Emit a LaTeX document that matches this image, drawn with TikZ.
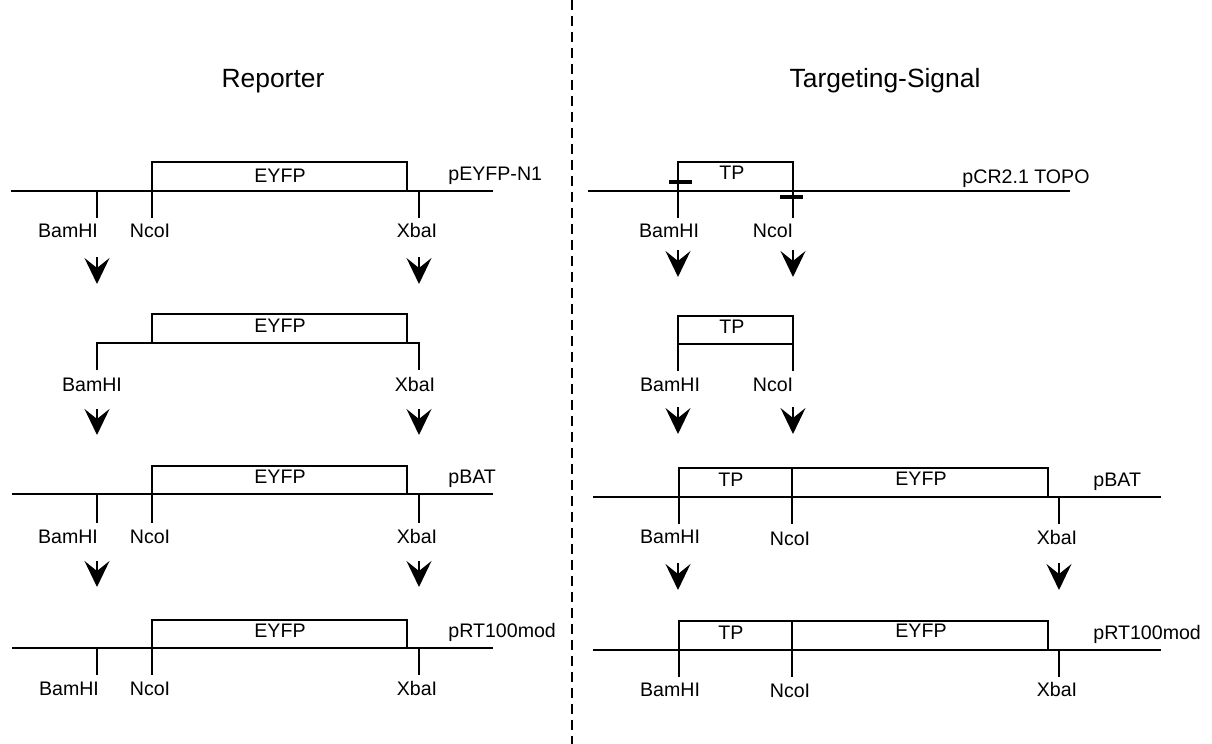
\documentclass[tikz,border=0pt]{standalone}
\usepackage{fontspec}
\setmainfont{Liberation Sans}
\usetikzlibrary{arrows.meta}

\begin{document}
\begin{tikzpicture}[
    x=0.5pt, y=-0.5pt,
    every node/.style={font=\fontsize{9.8}{11}\selectfont, inner sep=0pt},
    ttl/.style={font=\fontsize{13.2}{15}\selectfont, anchor=base},
    bb/.style={line width=1pt},
    ins/.style={draw, line width=1pt},
    cut/.style={line width=1pt},
    bar/.style={line width=2pt},
    lbl/.style={anchor=base},
    vec/.style={anchor=base west},
    site/.style={anchor=base},
    stp/.style={line width=1pt, -{Stealth[length=13pt, width=12.5pt, inset=5pt]}},
    sep/.style={line width=0.75pt, dash pattern=on 5pt off 3pt},
  ]
  \useasboundingbox (0,0) rectangle (1212,744);
  \node[ttl] (trep) at (273,87) {Reporter};
  \node[ttl] (ttgt) at (885,87) {Targeting-Signal};
  \draw[sep] (572,0) -- (572,744);

  \draw[bb] (11,191) -- (493,191);
  \draw[ins] (152,162) rectangle (407,191);
  \node[lbl] (l1eyfp) at (280,182) {EYFP};
  \node[vec] (l1vec) at (448,180) {pEYFP-N1};
  \draw[cut] (97,191) -- (97,218);
  \draw[cut] (152,191) -- (152,218);
  \draw[cut] (419,191) -- (419,218);
  \node[site] (l1bam) at (68,237) {BamHI};
  \node[site] (l1nco) at (150,237) {NcoI};
  \node[site] (l1xba) at (417,237) {XbaI};
  \draw[stp] (97,257) -- (97,284);
  \draw[stp] (419,257) -- (419,284);

  \draw[ins] (152,314) rectangle (407,343);
  \draw[cut] (97,370) -- (97,343) -- (419,343) -- (419,370);
  \node[lbl] (l2eyfp) at (280,332) {EYFP};
  \node[site] (l2bam) at (92,391) {BamHI};
  \node[site] (l2xba) at (415,391) {XbaI};
  \draw[stp] (97,409) -- (97,435);
  \draw[stp] (419,409) -- (419,435);

  \draw[bb] (12,494) -- (493,494);
  \draw[ins] (152,466) rectangle (407,494);
  \node[lbl] (l3eyfp) at (280,483) {EYFP};
  \node[vec] (l3vec) at (448,483) {pBAT};
  \draw[cut] (97,494) -- (97,523);
  \draw[cut] (152,494) -- (152,523);
  \draw[cut] (419,494) -- (419,523);
  \node[site] (l3bam) at (68,543) {BamHI};
  \node[site] (l3nco) at (150,543) {NcoI};
  \node[site] (l3xba) at (417,543) {XbaI};
  \draw[stp] (97,561) -- (97,587);
  \draw[stp] (419,561) -- (419,587);

  \draw[bb] (12,648) -- (493,648);
  \draw[ins] (152,620) rectangle (407,648);
  \node[lbl] (l4eyfp) at (280,637) {EYFP};
  \node[vec] (l4vec) at (448,637) {pRT100mod};
  \draw[cut] (97,648) -- (97,675);
  \draw[cut] (152,648) -- (152,675);
  \draw[cut] (419,648) -- (419,675);
  \node[site] (l4bam) at (69,695) {BamHI};
  \node[site] (l4nco) at (150,695) {NcoI};
  \node[site] (l4xba) at (417,695) {XbaI};

  \draw[bb] (588,191) -- (1070,191);
  \draw[ins] (678,218) -- (678,162) -- (793,162) -- (793,218);
  \draw[bar] (669,182) -- (692,182);
  \draw[bar] (780,197) -- (803,197);
  \node[lbl] (r1tp) at (732,179) {TP};
  \node[lbl] (r1vec) at (1026,183) {pCR2.1 TOPO};
  \node[site] (r1bam) at (669,237) {BamHI};
  \node[site] (r1nco) at (773,237) {NcoI};
  \draw[stp] (678,250) -- (678,277);
  \draw[stp] (793,250) -- (793,277);

  \draw[ins] (678,316) rectangle (793,344);
  \draw[cut] (678,344) -- (678,371);
  \draw[cut] (793,344) -- (793,371);
  \node[lbl] (r2tp) at (732,333) {TP};
  \node[site] (r2bam) at (670,391) {BamHI};
  \node[site] (r2nco) at (773,391) {NcoI};
  \draw[stp] (678,407) -- (678,434);
  \draw[stp] (793,407) -- (793,434);

  \draw[bb] (593,497) -- (1161,497);
  \draw[ins] (679,468) rectangle (792,497);
  \draw[ins] (792,468) rectangle (1048,497);
  \node[lbl] (r3tp) at (731,486) {TP};
  \node[lbl] (r3eyfp) at (921,485) {EYFP};
  \node[vec] (r3vec) at (1093,486) {pBAT};
  \draw[cut] (679,497) -- (679,524);
  \draw[cut] (792,497) -- (792,524);
  \draw[cut] (1059,497) -- (1059,524);
  \node[site] (r3bam) at (670,543) {BamHI};
  \node[site] (r3nco) at (790,545) {NcoI};
  \node[site] (r3xba) at (1057,544) {XbaI};
  \draw[stp] (678,563) -- (678,590);
  \draw[stp] (1059,563) -- (1059,590);

  \draw[bb] (593,650) -- (1161,650);
  \draw[ins] (679,621) rectangle (792,650);
  \draw[ins] (792,621) rectangle (1048,650);
  \node[lbl] (r4tp) at (731,639) {TP};
  \node[lbl] (r4eyfp) at (921,637) {EYFP};
  \node[vec] (r4vec) at (1093,639) {pRT100mod};
  \draw[cut] (679,650) -- (679,677);
  \draw[cut] (792,650) -- (792,677);
  \draw[cut] (1059,650) -- (1059,677);
  \node[site] (r4bam) at (670,696) {BamHI};
  \node[site] (r4nco) at (790,697) {NcoI};
  \node[site] (r4xba) at (1057,696) {XbaI};
\end{tikzpicture}
\end{document}
